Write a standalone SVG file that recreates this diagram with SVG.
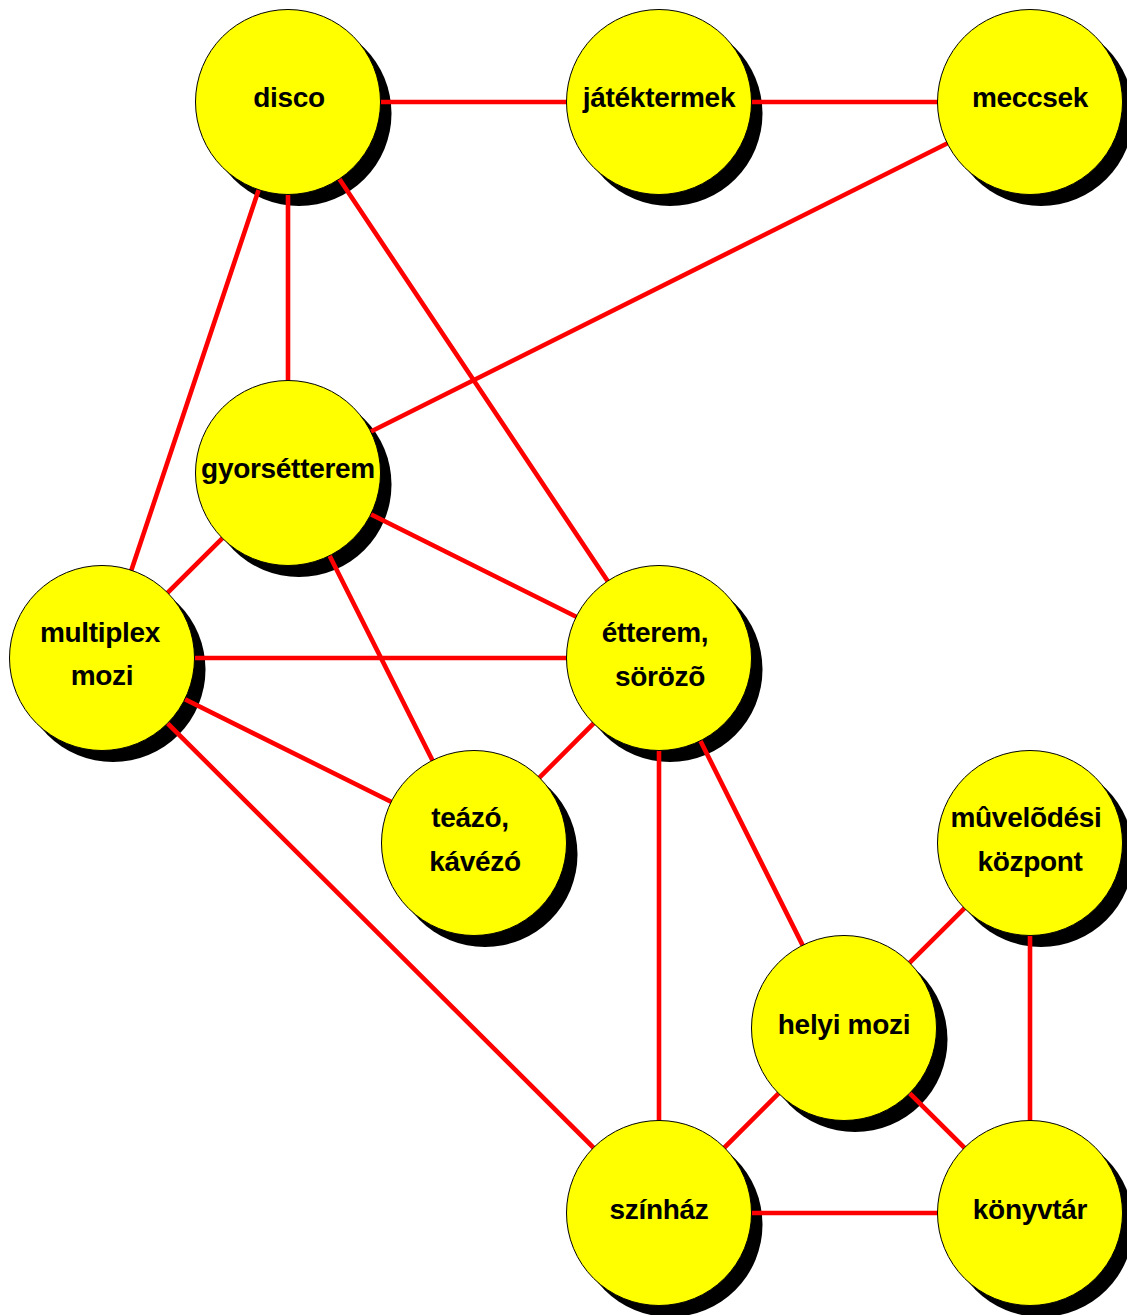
<svg xmlns="http://www.w3.org/2000/svg" width="1127" height="1315" viewBox="0 0 1127 1315">
<defs>
<style>
.shadow{fill:#000000;}
.node{fill:#FFFF00;stroke:#000000;stroke-width:1;}
.edge{stroke:#FF0000;stroke-width:4.6;stroke-linecap:round;fill:none;}
.label{font-family:"Liberation Sans",Arial,sans-serif;font-weight:bold;font-size:28px;letter-spacing:-0.3px;fill:#000000;text-anchor:middle;}
</style>
<circle id="shadowShape" cx="0" cy="0" r="92.5"/>
</defs>
<rect width="1127" height="1315" fill="#FFFFFF"/>
<g id="shadows" class="shadow" transform="translate(11,11.5)">
<use href="#shadowShape" x="288" y="102"/>
<use href="#shadowShape" x="659" y="102"/>
<use href="#shadowShape" x="1030" y="102"/>
<use href="#shadowShape" x="288" y="473"/>
<use href="#shadowShape" x="102" y="658"/>
<use href="#shadowShape" x="659" y="658"/>
<use href="#shadowShape" x="474" y="843"/>
<use href="#shadowShape" x="1030" y="843"/>
<use href="#shadowShape" x="844" y="1028"/>
<use href="#shadowShape" x="659" y="1213"/>
<use href="#shadowShape" x="1030" y="1213"/>
</g>
<g id="connectors" class="edge">
<line x1="288" y1="102" x2="659" y2="102"/>
<line x1="659" y1="102" x2="1030" y2="102"/>
<line x1="1030" y1="102" x2="288" y2="473"/>
<line x1="288" y1="102" x2="288" y2="473"/>
<line x1="288" y1="102" x2="102" y2="658"/>
<line x1="288" y1="102" x2="659" y2="658"/>
<line x1="288" y1="473" x2="102" y2="658"/>
<line x1="288" y1="473" x2="659" y2="658"/>
<line x1="288" y1="473" x2="474" y2="843"/>
<line x1="102" y1="658" x2="659" y2="658"/>
<line x1="102" y1="658" x2="474" y2="843"/>
<line x1="102" y1="658" x2="659" y2="1213"/>
<line x1="659" y1="658" x2="474" y2="843"/>
<line x1="659" y1="658" x2="659" y2="1213"/>
<line x1="659" y1="658" x2="844" y2="1028"/>
<line x1="1030" y1="843" x2="844" y2="1028"/>
<line x1="1030" y1="843" x2="1030" y2="1213"/>
<line x1="844" y1="1028" x2="659" y2="1213"/>
<line x1="844" y1="1028" x2="1030" y2="1213"/>
<line x1="659" y1="1213" x2="1030" y2="1213"/>
</g>
<g id="node-disco">
<circle class="node" cx="288" cy="102" r="92.5"/>
<text class="label" x="289" y="107">disco</text>
</g>
<g id="node-jatektermek">
<circle class="node" cx="659" cy="102" r="92.5"/>
<text class="label" x="659" y="107">játéktermek</text>
</g>
<g id="node-meccsek">
<circle class="node" cx="1030" cy="102" r="92.5"/>
<text class="label" x="1030" y="107">meccsek</text>
</g>
<g id="node-gyorsetterem">
<circle class="node" cx="288" cy="473" r="92.5"/>
<text class="label" x="288" y="478">gyorsétterem</text>
</g>
<g id="node-multiplex">
<circle class="node" cx="102" cy="658" r="92.5"/>
<text class="label" x="100" y="642">multiplex</text>
<text class="label" x="102" y="685">mozi</text>
</g>
<g id="node-etterem">
<circle class="node" cx="659" cy="658" r="92.5"/>
<text class="label" x="655" y="642">étterem,</text>
<text class="label" x="660" y="686">sörözõ</text>
</g>
<g id="node-teazo">
<circle class="node" cx="474" cy="843" r="92.5"/>
<text class="label" x="470" y="827">teázó,</text>
<text class="label" x="475" y="871">kávézó</text>
</g>
<g id="node-muvelodesi">
<circle class="node" cx="1030" cy="843" r="92.5"/>
<text class="label" x="1026" y="827">mûvelõdési</text>
<text class="label" x="1030" y="871">központ</text>
</g>
<g id="node-helyimozi">
<circle class="node" cx="844" cy="1028" r="92.5"/>
<text class="label" x="844" y="1034">helyi mozi</text>
</g>
<g id="node-szinhaz">
<circle class="node" cx="659" cy="1213" r="92.5"/>
<text class="label" x="659" y="1219">színház</text>
</g>
<g id="node-konyvtar">
<circle class="node" cx="1030" cy="1213" r="92.5"/>
<text class="label" x="1030" y="1219">könyvtár</text>
</g>
</svg>
